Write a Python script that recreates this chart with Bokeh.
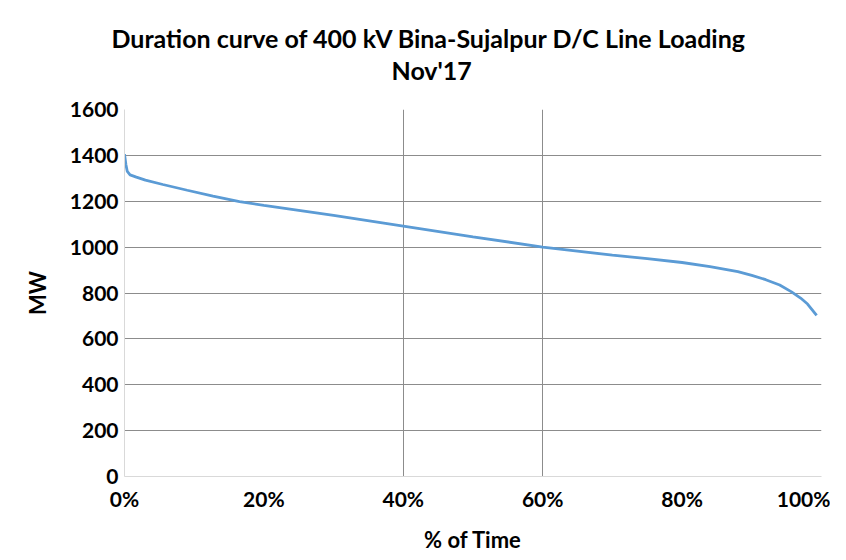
from bokeh.plotting import figure
from bokeh.models import FixedTicker, Title, Range1d
from bokeh.embed import file_html
from bokeh.resources import INLINE

# Duration curve: % of time vs MW
pct_time = [0, 0.2, 0.4, 0.8, 1.7, 3.0, 5.5, 9.0, 12.7, 16.5, 20, 25, 30, 40, 50, 60, 70, 75, 80, 84, 88, 90, 92, 94, 95.7, 97.0, 98.0, 99.3]
mw = [1405, 1360, 1330, 1315, 1305, 1292, 1273, 1248, 1222, 1198, 1182, 1160, 1138, 1092, 1045, 1000, 965, 950, 933, 915, 893, 877, 858, 835, 805, 778, 752, 702]

x_ticks = [0, 20, 40, 60, 80, 100]
x_tick_labels = {t: f"{t}%" for t in x_ticks}
y_ticks = [0, 200, 400, 600, 800, 1000, 1200, 1400, 1600]

title_line1 = "Duration curve of 400 kV Bina-Sujalpur D/C Line Loading"
title_line2 = "Nov'17"
x_title = "% of Time"
y_title = "MW"

FONT = "Lato"

p = figure(width=830, height=556, output_backend="svg", toolbar_location=None,
           x_range=Range1d(0, 100), y_range=Range1d(0, 1600), title=None,
           min_border_left=124, min_border_right=9, min_border_top=109, min_border_bottom=80)
p.outline_line_color = None

p.line(pct_time, mw, line_color="#5B9BD5", line_width=2.8)

# axes
p.xaxis.ticker = FixedTicker(ticks=x_ticks)
p.xaxis.major_label_overrides = x_tick_labels
p.yaxis.ticker = FixedTicker(ticks=y_ticks)
for ax in (p.xaxis, p.yaxis):
    ax.major_tick_line_color = None
    ax.minor_tick_line_color = None
    ax.major_tick_out = 0
    ax.major_tick_in = 0
    ax.axis_line_color = "#d9d9d9"
    ax.major_label_text_font = FONT
    ax.major_label_text_font_style = "bold"
    ax.major_label_text_font_size = "21px"
    ax.major_label_text_color = "#000000"
    ax.axis_label_text_font = FONT
    ax.axis_label_text_font_style = "bold"
    ax.axis_label_text_font_size = "22px"
    ax.axis_label_text_color = "#000000"
p.xaxis.axis_label = x_title
p.yaxis.axis_label = y_title
p.xaxis.major_label_standoff = 9
p.yaxis.major_label_standoff = 6
p.xaxis.axis_label_standoff = 12
p.yaxis.axis_label_standoff = 16

# grids
p.ygrid.ticker = FixedTicker(ticks=y_ticks[1:])
p.ygrid.grid_line_color = "#8c8c8c"
p.xgrid.ticker = FixedTicker(ticks=[40, 60, 100])
p.xgrid.grid_line_color = "#8c8c8c"

# titles (first added is closest to the plot)
p.add_layout(Title(text=title_line2, align="left", offset=267, text_font=FONT, text_color="#000000",
                   text_font_style="bold", text_font_size="25px", standoff=50), "above")
p.add_layout(Title(text=title_line1, align="left", offset=-13, text_font=FONT, text_color="#000000",
                   text_font_style="bold", text_font_size="25px", standoff=-50), "above")

open("out.html", "w").write(file_html(p, INLINE))
